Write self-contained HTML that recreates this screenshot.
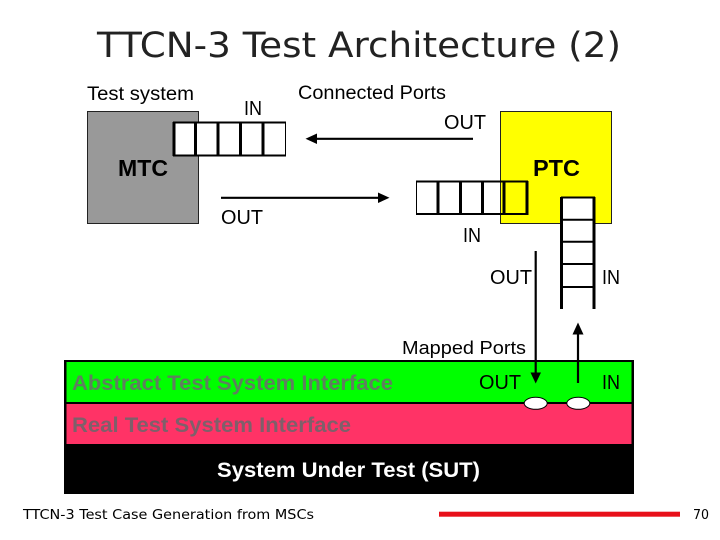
<!DOCTYPE html>
<html><head><meta charset="utf-8"><style>
html,body{margin:0;padding:0;background:#fff}
svg{display:block}
text{font-family:"Liberation Sans",Arial,sans-serif;fill:#000}
.d{font-family:"DejaVu Sans",sans-serif}
</style></head><body>
<svg width="720" height="540" viewBox="0 0 720 540" xmlns="http://www.w3.org/2000/svg">
<rect width="720" height="540" fill="#fff"/>
<text class="d" x="97" y="57" font-size="35" textLength="524" lengthAdjust="spacingAndGlyphs" style="fill:#222">TTCN-3 Test Architecture (2)</text>

<text x="87" y="100" font-size="19" textLength="107" lengthAdjust="spacingAndGlyphs">Test system</text>
<text x="244" y="115" font-size="20" textLength="18" lengthAdjust="spacingAndGlyphs">IN</text>
<text x="298" y="99" font-size="19" textLength="148" lengthAdjust="spacingAndGlyphs">Connected Ports</text>
<text x="444" y="129" font-size="20" textLength="42" lengthAdjust="spacingAndGlyphs">OUT</text>

<rect x="87.5" y="111.5" width="111" height="112" fill="#999" stroke="#222" stroke-width="1"/>
<rect x="500.5" y="111.5" width="111" height="112" fill="#ff0" stroke="#222" stroke-width="1"/>
<text x="118" y="176" font-size="23" font-weight="bold" textLength="50" lengthAdjust="spacingAndGlyphs">MTC</text>
<text x="533" y="176" font-size="23" font-weight="bold" textLength="47" lengthAdjust="spacingAndGlyphs">PTC</text>

<!-- IN queue (MTC) -->
<rect x="173.5" y="122" width="112" height="34" fill="#fff"/>
<g stroke="#000" fill="none">
<path d="M173 122.500H286M173 155.500H286" stroke-width="2"/>
<path d="M285.500 122V156" stroke-width="1"/>
<path d="M174 122V156M195.500 122V156M218 122V156M240.500 122V156M263 122V156" stroke-width="3"/>
</g>

<!-- top arrow -->
<path d="M314 138.800H473" stroke="#000" stroke-width="2.200"/>
<path d="M305.500 138.800L317 133.500V144Z" fill="#000"/>
<!-- lower arrow -->
<path d="M221 197.800H381" stroke="#000" stroke-width="2.200"/>
<path d="M389.500 197.800L378 192.500V203Z" fill="#000"/>
<text x="221" y="224" font-size="20" textLength="42" lengthAdjust="spacingAndGlyphs">OUT</text>

<!-- IN queue (PTC) -->
<rect x="416" y="181" width="84" height="33" fill="#fff"/>
<g stroke="#000" fill="none">
<path d="M416 181.500H528M416 214H528" stroke-width="2"/>
<path d="M416.500 181V215" stroke-width="1"/>
<path d="M438 181V215M460.500 181V215M482.500 181V215M504 181V215M527 181V215" stroke-width="3"/>
</g>
<text x="463" y="242" font-size="20" textLength="18" lengthAdjust="spacingAndGlyphs">IN</text>

<!-- vertical queue -->
<rect x="561" y="197" width="33" height="112" fill="#fff"/>
<g stroke="#000" fill="none">
<path d="M561.500 197V309M594 197V309" stroke-width="3"/>
<path d="M561 197.500H595M561 219.800H595M561 241.800H595M561 264H595M561 287H595" stroke-width="2"/>
</g>
<text x="490" y="284" font-size="20" textLength="42" lengthAdjust="spacingAndGlyphs">OUT</text>
<text x="602" y="284" font-size="20" textLength="18" lengthAdjust="spacingAndGlyphs">IN</text>
<text x="402" y="354" font-size="18" textLength="124" lengthAdjust="spacingAndGlyphs">Mapped Ports</text>

<!-- layered bars -->
<rect x="64" y="360" width="570" height="134" fill="#000"/>
<rect x="66.500" y="362" width="565" height="40" fill="#0f0"/>
<rect x="66.500" y="404" width="565" height="40" fill="#f36"/>
<text x="72" y="390" font-size="21" font-weight="bold" style="fill:#5f7f5f" textLength="321" lengthAdjust="spacingAndGlyphs">Abstract Test System Interface</text>
<text x="72" y="432" font-size="21" font-weight="bold" style="fill:#7f5f6a" textLength="279" lengthAdjust="spacingAndGlyphs">Real Test System Interface</text>
<text x="217" y="477" font-size="21" font-weight="bold" style="fill:#fff" textLength="263" lengthAdjust="spacingAndGlyphs">System Under Test (SUT)</text>
<text x="479" y="389" font-size="20" textLength="42" lengthAdjust="spacingAndGlyphs">OUT</text>
<text x="602" y="389" font-size="20" textLength="18" lengthAdjust="spacingAndGlyphs">IN</text>

<!-- mapped port arrows -->
<path d="M535.700 251V376" stroke="#000" stroke-width="2.200"/>
<path d="M535.700 383.500L530.500 372.500H541Z" fill="#000"/>
<path d="M578 331V383" stroke="#000" stroke-width="2.200"/>
<path d="M578 322.500L572.500 334.500H583.500Z" fill="#000"/>
<ellipse cx="535.700" cy="403.300" rx="11.500" ry="6" fill="#fff" stroke="#000" stroke-width="1"/>
<ellipse cx="578.300" cy="403.300" rx="11.500" ry="6" fill="#fff" stroke="#000" stroke-width="1"/>

<!-- footer -->
<text class="d" x="23" y="519" font-size="13" textLength="291" lengthAdjust="spacingAndGlyphs">TTCN-3 Test Case Generation from MSCs</text>
<rect x="439" y="511.700" width="241" height="5" fill="#e8101a"/>
<text class="d" x="693" y="519" font-size="13" textLength="16" lengthAdjust="spacingAndGlyphs">70</text>
</svg>
</body></html>
